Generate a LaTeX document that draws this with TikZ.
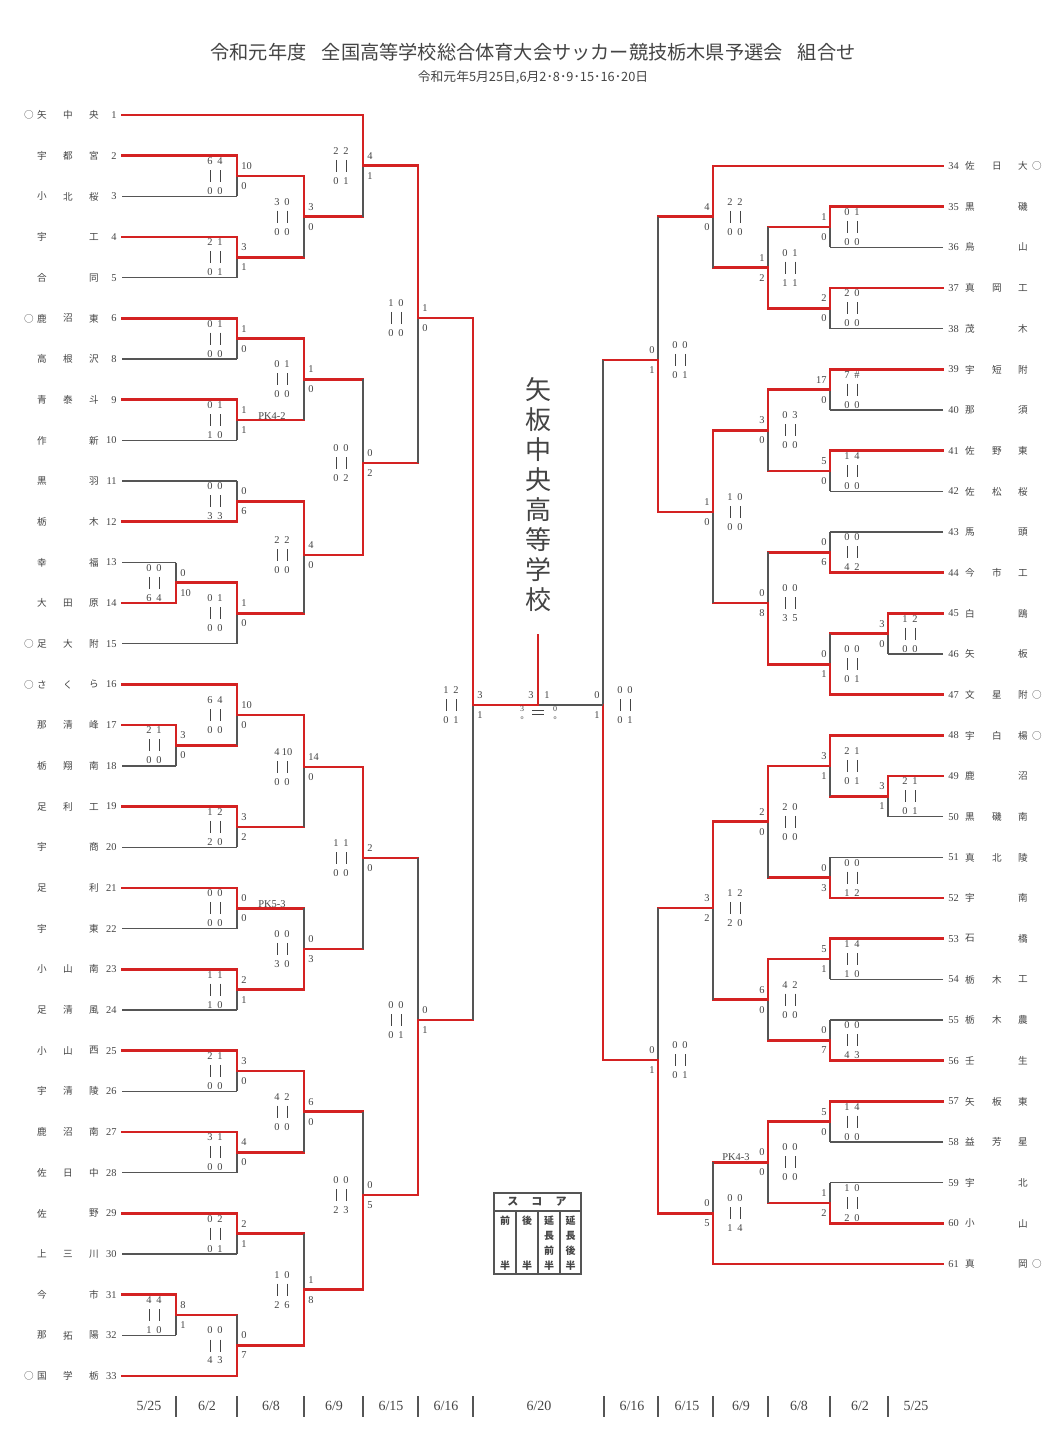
\documentclass[tikz,border=0pt]{standalone}
\usepackage{fontspec}
\setmainfont{Liberation Serif}
\newfontfamily\jp{Noto Sans CJK JP}
\definecolor{rd}{HTML}{D42222}
\definecolor{gk}{HTML}{555555}
\definecolor{tx}{HTML}{444444}
\tikzset{
 R/.style={draw=rd,line width=1.4pt,line cap=rect},
 K/.style={draw=gk,line width=0.6pt},
 d/.style={inner sep=0,text=tx,font=\fontsize{5.2}{6}\selectfont},
 nm/.style={inner sep=0,text=tx,font=\jp\fontsize{4.8}{6}\selectfont},
 bar/.style={draw=tx,line width=0.35pt}
}
% xa xb xv ya ym yb ca cb winner(a/b)
\newcommand\BRK[9]{%
 \draw[#7] (#1,#4) -- (#3,#4);
 \draw[#8] (#2,#6) -- (#3,#6);
 \if#9a\draw[K] (#3,#5)--(#3,#6);\draw[R] (#3,#4)--(#3,#5);%
 \else\draw[K] (#3,#4)--(#3,#5);\draw[R] (#3,#5)--(#3,#6);\fi}
% xv ym a1 a2 b1 b2 ta tb  (left side)
\newcommand\SL[8]{%
 \node[d] at (#1-27,#2-15) {#3};\node[d] at (#1-17,#2-15) {#4};
 \draw[bar] (#1-27,#2-6)--(#1-27,#2+6);\draw[bar] (#1-17,#2-6)--(#1-17,#2+6);
 \node[d] at (#1-27,#2+15) {#5};\node[d] at (#1-17,#2+15) {#6};
 \node[d,anchor=west] at (#1+4,#2-10) {#7};\node[d,anchor=west] at (#1+4,#2+10) {#8};}
\newcommand\SR[8]{%
 \node[d] at (#1+17,#2-15) {#3};\node[d] at (#1+27,#2-15) {#4};
 \draw[bar] (#1+17,#2-6)--(#1+17,#2+6);\draw[bar] (#1+27,#2-6)--(#1+27,#2+6);
 \node[d] at (#1+17,#2+15) {#5};\node[d] at (#1+27,#2+15) {#6};
 \node[d,anchor=east] at (#1-3,#2-10) {#7};\node[d,anchor=east] at (#1-3,#2+10) {#8};}
\begin{document}
\begin{tikzpicture}[x=0.5pt,y=-0.5pt]
\useasboundingbox[fill=white] (0,0) rectangle (1050,1443);
% titles
\node[inner sep=0,text=tx,font=\jp\fontsize{9.6}{11}\selectfont] (title) at (533,52) {令和元年度\hspace{0.8em}全国高等学校総合体育大会サッカー競技栃木県予選会\hspace{0.8em}組合せ};
\node[inner sep=0,text=tx,font=\jp\fontsize{6.4}{8}\selectfont] (sub) at (533,77) {令和元年5月25日,6月2･8･9･15･16･20日};
% left teams
\foreach \y/\n/\a/\b/\c/\o in {115/1/矢/中/央/○,155.7/2/宇/都/宮/{},196.4/3/小/北/桜/{},237/4/宇/{}/工/{},277.7/5/合/{}/同/{},318.4/6/鹿/沼/東/○,359/8/高/根/沢/{},399.8/9/青/泰/斗/{},440.4/10/作/{}/新/{},481/11/黒/{}/羽/{},521.8/12/栃/{}/木/{},562.5/13/幸/{}/福/{},603/14/大/田/原/{},643.8/15/足/大/附/○,684.5/16/さ/く/ら/○,725/17/那/清/峰/{},765.9/18/栃/翔/南/{},806.6/19/足/利/工/{},847.2/20/宇/{}/商/{},887.9/21/足/{}/利/{},928.6/22/宇/{}/東/{},969.3/23/小/山/南/{},1010/24/足/清/風/{},1050.6/25/小/山/西/{},1091.3/26/宇/清/陵/{},1132/27/鹿/沼/南/{},1172.7/28/佐/日/中/{},1213.4/29/佐/{}/野/{},1254/30/上/三/川/{},1294.7/31/今/{}/市/{},1335.4/32/那/拓/陽/{},1376/33/国/学/栃/○}{
 \node[nm] at (29,\y) {\o};\node[nm] at (42,\y) {\a};\node[nm] at (68,\y) {\b};\node[nm] at (94,\y) {\c};
 \node[d,anchor=east] at (117,\y) {\n};}
% right teams
\foreach \y/\n/\a/\b/\c/\o in {166/34/佐/日/大/○,206.7/35/黒/{}/磯/{},247.3/36/烏/{}/山/{},288/37/真/岡/工/{},328.7/38/茂/{}/木/{},369.4/39/宇/短/附/{},410/40/那/{}/須/{},450.7/41/佐/野/東/{},491.4/42/佐/松/桜/{},532/43/馬/{}/頭/{},572.7/44/今/市/工/{},613.4/45/白/{}/鴎/{},654/46/矢/{}/板/{},694.7/47/文/星/附/○,735.4/48/宇/白/楊/○,776/49/鹿/{}/沼/{},816.7/50/黒/磯/南/{},857.4/51/真/北/陵/{},898/52/宇/{}/南/{},938.7/53/石/{}/橋/{},979.4/54/栃/木/工/{},1020/55/栃/木/農/{},1060.7/56/壬/{}/生/{},1101.4/57/矢/板/東/{},1142/58/益/芳/星/{},1182.7/59/宇/{}/北/{},1223.4/60/小/{}/山/{},1264/61/真/{}/岡/○}{
 \node[d,anchor=west] at (948,\y) {\n};
 \node[nm] at (970,\y) {\a};\node[nm] at (997,\y) {\b};\node[nm] at (1023,\y) {\c};\node[nm] at (1037,\y) {\o};}
% ---- left brackets ----
\BRK{122}{122}{237}{155.7}{176.05}{196.4}{R}{K}{a}\SL{237}{176.05}{6}{4}{0}{0}{10}{0}
\BRK{122}{122}{237}{237}{257.35}{277.7}{R}{K}{a}\SL{237}{257.35}{2}{1}{0}{1}{3}{1}
\BRK{237}{237}{304}{176.05}{216.7}{257.35}{R}{R}{a}\SL{304}{216.7}{3}{0}{0}{0}{3}{0}
\BRK{122}{304}{363}{115}{165.85}{216.7}{R}{R}{a}\SL{363}{165.85}{2}{2}{0}{1}{4}{1}
\BRK{122}{122}{237}{318.4}{338.7}{359}{R}{K}{a}\SL{237}{338.7}{0}{1}{0}{0}{1}{0}
\BRK{122}{122}{237}{399.8}{420.1}{440.4}{R}{K}{a}\SL{237}{420.1}{0}{1}{1}{0}{1}{1}
\node[d] at (272,416) {PK4-2};
\BRK{237}{237}{304}{338.7}{379.4}{420.1}{R}{R}{a}\SL{304}{379.4}{0}{1}{0}{0}{1}{0}
\BRK{122}{122}{237}{481}{501.4}{521.8}{K}{R}{b}\SL{237}{501.4}{0}{0}{3}{3}{0}{6}
\BRK{122}{122}{176}{562.5}{582.75}{603}{K}{R}{b}\SL{176}{582.75}{0}{0}{6}{4}{0}{10}
\BRK{176}{122}{237}{582.75}{613.3}{643.8}{R}{K}{a}\SL{237}{613.3}{0}{1}{0}{0}{1}{0}
\BRK{237}{237}{304}{501.4}{555}{613.3}{R}{R}{a}\SL{304}{555}{2}{2}{0}{0}{4}{0}
\BRK{304}{304}{363}{379.4}{463}{555}{R}{R}{b}\SL{363}{463}{0}{0}{0}{2}{0}{2}
\BRK{363}{363}{418}{165.85}{318}{463}{R}{R}{a}\SL{418}{318}{1}{0}{0}{0}{1}{0}
\BRK{122}{122}{176}{725}{745.45}{765.9}{R}{K}{a}\SL{176}{745.45}{2}{1}{0}{0}{3}{0}
\BRK{122}{176}{237}{684.5}{715}{745.45}{R}{R}{a}\SL{237}{715}{6}{4}{0}{0}{10}{0}
\BRK{122}{122}{237}{806.6}{826.9}{847.2}{R}{K}{a}\SL{237}{826.9}{1}{2}{2}{0}{3}{2}
\BRK{237}{237}{304}{715}{767}{826.9}{R}{R}{a}\SL{304}{767}{4}{10}{0}{0}{14}{0}
\BRK{122}{122}{237}{887.9}{908.25}{928.6}{R}{K}{a}\SL{237}{908.25}{0}{0}{0}{0}{0}{0}
\node[d] at (272,904) {PK5-3};
\BRK{122}{122}{237}{969.3}{989.65}{1010}{R}{K}{a}\SL{237}{989.65}{1}{1}{1}{0}{2}{1}
\BRK{237}{237}{304}{908.25}{948.95}{989.65}{R}{R}{b}\SL{304}{948.95}{0}{0}{3}{0}{0}{3}
\BRK{304}{304}{363}{767}{858}{948.95}{R}{R}{a}\SL{363}{858}{1}{1}{0}{0}{2}{0}
\BRK{122}{122}{237}{1050.6}{1070.95}{1091.3}{R}{K}{a}\SL{237}{1070.95}{2}{1}{0}{0}{3}{0}
\BRK{122}{122}{237}{1132}{1152.35}{1172.7}{R}{K}{a}\SL{237}{1152.35}{3}{1}{0}{0}{4}{0}
\BRK{237}{237}{304}{1070.95}{1111.65}{1152.35}{R}{R}{a}\SL{304}{1111.65}{4}{2}{0}{0}{6}{0}
\BRK{122}{122}{237}{1213.4}{1233.7}{1254}{R}{K}{a}\SL{237}{1233.7}{0}{2}{0}{1}{2}{1}
\BRK{122}{122}{176}{1294.7}{1315.05}{1335.4}{R}{K}{a}\SL{176}{1315.05}{4}{4}{1}{0}{8}{1}
\BRK{176}{122}{237}{1315.05}{1345.5}{1376}{R}{R}{b}\SL{237}{1345.5}{0}{0}{4}{3}{0}{7}
\BRK{237}{237}{304}{1233.7}{1289.6}{1345.5}{R}{R}{b}\SL{304}{1289.6}{1}{0}{2}{6}{1}{8}
\BRK{304}{304}{363}{1111.65}{1195}{1289.6}{R}{R}{b}\SL{363}{1195}{0}{0}{2}{3}{0}{5}
\BRK{363}{363}{418}{858}{1020}{1195}{R}{R}{b}\SL{418}{1020}{0}{0}{0}{1}{0}{1}
\BRK{418}{418}{473}{318}{705}{1020}{R}{R}{a}\SL{473}{705}{1}{2}{0}{1}{3}{1}
% ---- right brackets ----
\BRK{943}{943}{830}{206.7}{227}{247.3}{R}{K}{a}\SR{830}{227}{0}{1}{0}{0}{1}{0}
\BRK{943}{943}{830}{288}{308.35}{328.7}{R}{K}{a}\SR{830}{308.35}{2}{0}{0}{0}{2}{0}
\BRK{830}{830}{768}{227}{267.7}{308.35}{R}{R}{b}\SR{768}{267.7}{0}{1}{1}{1}{1}{2}
\BRK{943}{768}{713}{166}{216.85}{267.7}{R}{R}{a}\SR{713}{216.85}{2}{2}{0}{0}{4}{0}
\BRK{943}{943}{830}{369.4}{389.7}{410}{R}{K}{a}\SR{830}{389.7}{7}{\#}{0}{0}{17}{0}
\BRK{943}{943}{830}{450.7}{471.05}{491.4}{R}{K}{a}\SR{830}{471.05}{1}{4}{0}{0}{5}{0}
\BRK{830}{830}{768}{389.7}{430.4}{471.05}{R}{R}{a}\SR{768}{430.4}{0}{3}{0}{0}{3}{0}
\BRK{943}{943}{830}{532}{552.35}{572.7}{K}{R}{b}\SR{830}{552.35}{0}{0}{4}{2}{0}{6}
\BRK{943}{943}{888}{613.4}{633.7}{654}{R}{K}{a}\SR{888}{633.7}{1}{2}{0}{0}{3}{0}
\BRK{888}{943}{830}{633.7}{664.2}{694.7}{R}{R}{b}\SR{830}{664.2}{0}{0}{0}{1}{0}{1}
\BRK{830}{830}{768}{552.35}{603}{664.2}{R}{R}{b}\SR{768}{603}{0}{0}{3}{5}{0}{8}
\BRK{768}{768}{713}{430.4}{512}{603}{R}{R}{a}\SR{713}{512}{1}{0}{0}{0}{1}{0}
\BRK{713}{713}{658}{216.85}{360}{512}{R}{R}{b}\SR{658}{360}{0}{0}{0}{1}{0}{1}
\BRK{943}{943}{888}{776}{796.35}{816.7}{R}{K}{a}\SR{888}{796.35}{2}{1}{0}{1}{3}{1}
\BRK{943}{888}{830}{735.4}{765.9}{796.35}{R}{R}{a}\SR{830}{765.9}{2}{1}{0}{1}{3}{1}
\BRK{943}{943}{830}{857.4}{877.7}{898}{K}{R}{b}\SR{830}{877.7}{0}{0}{1}{2}{0}{3}
\BRK{830}{830}{768}{765.9}{821.8}{877.7}{R}{R}{a}\SR{768}{821.8}{2}{0}{0}{0}{2}{0}
\BRK{943}{943}{830}{938.7}{959}{979.4}{R}{K}{a}\SR{830}{959}{1}{4}{1}{0}{5}{1}
\BRK{943}{943}{830}{1020}{1040.35}{1060.7}{K}{R}{b}\SR{830}{1040.35}{0}{0}{4}{3}{0}{7}
\BRK{830}{830}{768}{959}{999.7}{1040.35}{R}{R}{a}\SR{768}{999.7}{4}{2}{0}{0}{6}{0}
\BRK{768}{768}{713}{821.8}{908}{999.7}{R}{R}{a}\SR{713}{908}{1}{2}{2}{0}{3}{2}
\BRK{943}{943}{830}{1101.4}{1121.7}{1142}{R}{K}{a}\SR{830}{1121.7}{1}{4}{0}{0}{5}{0}
\BRK{943}{943}{830}{1182.7}{1203}{1223.4}{K}{R}{b}\SR{830}{1203}{1}{0}{2}{0}{1}{2}
\BRK{830}{830}{768}{1121.7}{1162.35}{1203}{R}{R}{a}\SR{768}{1162.35}{0}{0}{0}{0}{0}{0}
\node[d] at (736,1157) {PK4-3};
\BRK{768}{943}{713}{1162.35}{1213.2}{1264}{R}{R}{b}\SR{713}{1213.2}{0}{0}{1}{4}{0}{5}
\BRK{713}{713}{658}{908}{1060}{1213.2}{R}{R}{b}\SR{658}{1060}{0}{0}{0}{1}{0}{1}
\BRK{658}{658}{603}{360}{705}{1060}{R}{R}{b}\SR{603}{705}{0}{0}{0}{1}{0}{1}
% ---- final ----
\coordinate (fl) at (473,705);\coordinate (fr) at (603,705);
\coordinate (fc) at (538,705);\coordinate (ft) at (538,635);
\draw[K] (fc) -- (fr);
\draw[R] (fl) -- (fc) -- (ft);
\node[d,anchor=east] at (534,695) {3};\node[d,anchor=west] at (544,695) {1};
\node[d,font=\fontsize{4}{5}\selectfont] at (522,709) {3};
\node[d,font=\fontsize{4}{5}\selectfont] at (555,709) {0};
\node[d,font=\fontsize{3}{4}\selectfont] at (522,718) {o};
\node[d,font=\fontsize{3}{4}\selectfont] at (555,718) {o};
\draw[bar] (532,710)--(544,710);\draw[bar] (532,714)--(544,714);
\node[inner sep=0,text=tx,font=\jp\fontsize{13}{15}\selectfont,align=center] (champ) at (538,495) {矢\\板\\中\\央\\高\\等\\学\\校};
% ---- legend ----
\draw[K,line width=0.7pt] (494,1193) rectangle (581,1274);
\draw[K,line width=0.7pt] (494,1211) -- (581,1211);
\foreach \x in {516,538,560} \draw[K,line width=0.7pt] (\x,1211) -- (\x,1274);
\node[nm,font=\jp\bfseries\fontsize{5.5}{6}\selectfont] at (537,1202) {ス\hspace{1.2em}コ\hspace{1.2em}ア};
\foreach \x/\a/\b/\c/\e in {505/前/{}/{}/半,527/後/{}/{}/半,549/延/長/前/半,570.5/延/長/後/半}{
 \node[nm,font=\jp\bfseries\fontsize{5}{6}\selectfont] at (\x,1221) {\a};
 \node[nm,font=\jp\bfseries\fontsize{5}{6}\selectfont] at (\x,1236) {\b};
 \node[nm,font=\jp\bfseries\fontsize{5}{6}\selectfont] at (\x,1251) {\c};
 \node[nm,font=\jp\bfseries\fontsize{5}{6}\selectfont] at (\x,1266) {\e};}
% ---- dates ----
\foreach \x/\t in {149/5\slash25,207/6\slash2,271/6\slash8,334/6\slash9,391/6\slash15,446/6\slash16,539/6\slash20,632/6\slash16,687/6\slash15,741/6\slash9,799/6\slash8,860/6\slash2,916/5\slash25}
 \node[d,font=\fontsize{7}{8}\selectfont] at (\x,1406) {\t};
\foreach \x in {176,237,304,363,418,473,604,658,713,768,830,888}
 \draw[K] (\x,1396) -- (\x,1417);
\end{tikzpicture}
\end{document}
